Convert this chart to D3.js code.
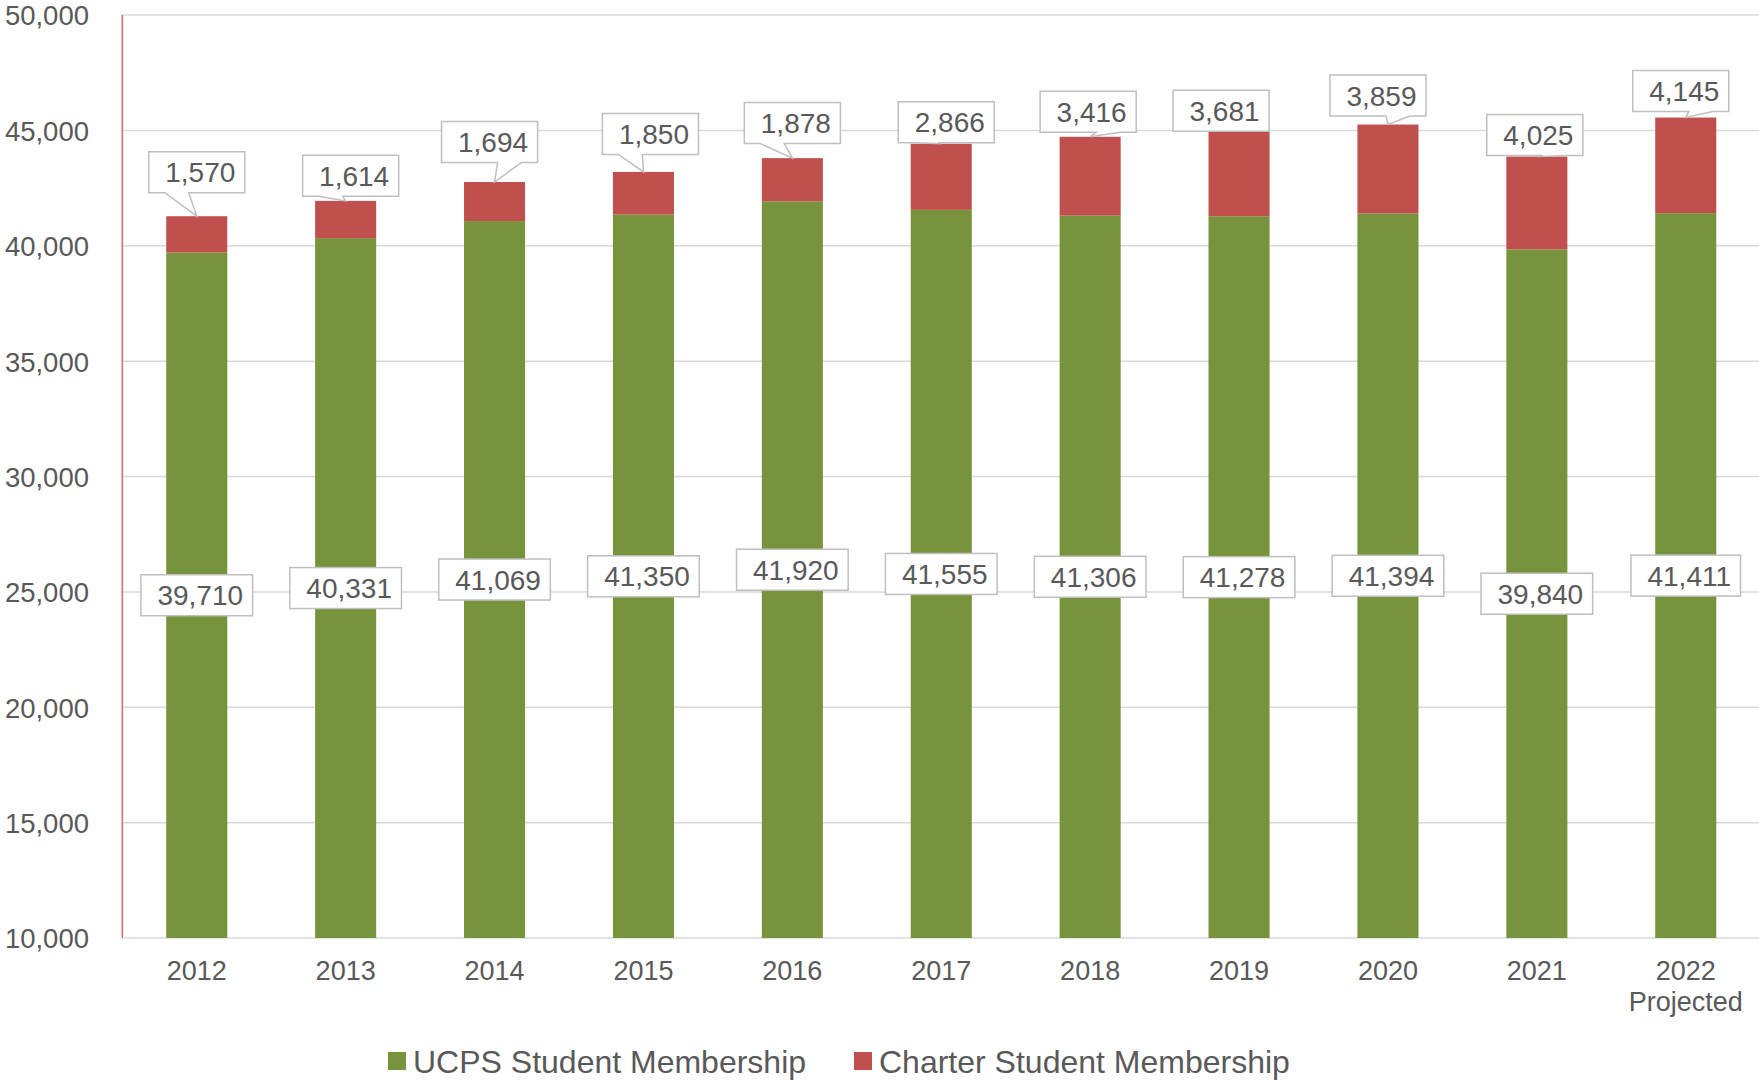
<!DOCTYPE html>
<html>
<head>
<meta charset="utf-8">
<script src="https://cdn.jsdelivr.net/npm/d3@7"></script>
<style>
  body { margin: 0; background: #fff; }
  text { font-family: "Liberation Sans", Arial, sans-serif; fill: #595959; }
</style>
</head>
<body>
<svg id="chart"></svg>
<script>
// data
const years = ['2012', '2013', '2014', '2015', '2016', '2017', '2018', '2019', '2020', '2021', '2022'];
const yearNotes = ['', '', '', '', '', '', '', '', '', '', 'Projected'];
const ucps = [39710, 40331, 41069, 41350, 41920, 41555, 41306, 41278, 41394, 39840, 41411];
const charter = [1570, 1614, 1694, 1850, 1878, 2866, 3416, 3681, 3859, 4025, 4145];
const yTicks = [10000, 15000, 20000, 25000, 30000, 35000, 40000, 45000, 50000];
const seriesNames = ['UCPS Student Membership', 'Charter Student Membership'];

// where each charter callout was dragged to, relative to the bar top (px)
const calloutDx = [0, 5, -5, 7, 0, 5, -2, -18, -10, -2, -5];
const calloutDy = [-44, -25, -40, -38, -35, -21.5, -25, -20.5, -29, -21.5, -26.5];

const width = 1759;
const height = 1080;
const green = '#77933C';
const red = '#C0504D';

const svg = d3.select('#chart')
              .attr('width', width)
              .attr('height', height);

const x = d3.scaleBand()
            .domain(years)
            .range([122.3, 122.3 + 148.9 * years.length])
            .paddingInner(0.59)
            .paddingOuter(0.295);

const y = d3.scaleLinear()
            .domain([10000, 50000])
            .range([938, 15]);

// gridlines
svg.append('g')
   .selectAll('line')
   .data(yTicks)
   .enter()
   .append('line')
   .attr('x1', 122)
   .attr('x2', width)
   .attr('y1', d => y(d))
   .attr('y2', d => y(d))
   .attr('stroke', '#d9d9d9')
   .attr('stroke-width', 1.5);

// y labels
const yAxis = svg.append('g')
                 .attr('transform', 'translate(89,0)')
                 .call(d3.axisLeft(y).tickValues(yTicks).tickSize(0).tickPadding(0).tickFormat(d3.format(',')));
yAxis.select('.domain').remove();
yAxis.selectAll('text')
     .attr('font-size', 27.5)
     .attr('font-family', null)
     .attr('dy', '0.36em');

// left axis line
svg.append('line')
   .attr('x1', 122.3).attr('x2', 122.3)
   .attr('y1', y(50000)).attr('y2', y(10000))
   .attr('stroke', '#e06666')
   .attr('stroke-width', 1.5);

// stacked bars
const rows = years.map((yr, i) => ({ year: yr, ucps: ucps[i], charter: charter[i], i }));

svg.append('g')
   .selectAll('rect')
   .data(rows)
   .enter()
   .append('rect')
   .attr('x', d => x(d.year))
   .attr('width', x.bandwidth())
   .attr('y', d => y(d.ucps))
   .attr('height', d => y(10000) - y(d.ucps))
   .attr('fill', green);

svg.append('g')
   .selectAll('rect')
   .data(rows)
   .enter()
   .append('rect')
   .attr('x', d => x(d.year))
   .attr('width', x.bandwidth())
   .attr('y', d => y(d.ucps + d.charter))
   .attr('height', d => y(d.ucps) - y(d.ucps + d.charter))
   .attr('fill', red);

// x labels
const xLabels = svg.append('g')
                   .selectAll('text')
                   .data(rows)
                   .enter()
                   .append('text')
                   .attr('x', d => x(d.year) + x.bandwidth() / 2)
                   .attr('y', 980)
                   .attr('text-anchor', 'middle')
                   .attr('font-size', 27);
xLabels.append('tspan').text(d => d.year);
xLabels.append('tspan')
       .attr('x', d => x(d.year) + x.bandwidth() / 2)
       .attr('dy', 31)
       .text(d => yearNotes[d.i]);

const fmt = d3.format(',');
const boxH = 41;
const labelFont = 28;

// UCPS labels: plain boxes at the middle of the green segment
const gLabels = svg.append('g')
                   .selectAll('g')
                   .data(rows)
                   .enter()
                   .append('g')
                   .attr('transform', d => `translate(${x(d.year) + x.bandwidth() / 2}, ${(y(10000) + y(d.ucps)) / 2})`);
gLabels.append('rect');
gLabels.append('text')
       .attr('x', 3.5)
       .attr('y', labelFont * 0.36)
       .attr('text-anchor', 'middle')
       .attr('font-size', labelFont)
       .text(d => fmt(d.ucps));
gLabels.each(function () {
  const g = d3.select(this);
  const w = g.select('text').node().getComputedTextLength() + 26;
  g.select('rect')
   .attr('x', -w / 2).attr('y', -boxH / 2)
   .attr('width', w).attr('height', boxH)
   .attr('fill', '#fff')
   .attr('stroke', '#bfbfbf')
   .attr('stroke-width', 1.5);
});

// Charter labels: wedge callouts pointing at the bar top
const cLabels = svg.append('g')
                   .selectAll('g')
                   .data(rows)
                   .enter()
                   .append('g');
cLabels.append('path');
cLabels.append('text')
       .attr('text-anchor', 'middle')
       .attr('font-size', labelFont)
       .text(d => fmt(d.charter));
cLabels.each(function (d) {
  const g = d3.select(this);
  const tipX = x(d.year) + x.bandwidth() / 2;
  const tipY = y(d.ucps + d.charter);
  const cx = tipX + calloutDx[d.i];
  const cy = tipY + calloutDy[d.i];
  const txt = g.select('text').attr('x', cx + 3.5).attr('y', cy + labelFont * 0.36);
  const w = txt.node().getComputedTextLength() + 26;
  const l = cx - w / 2, r = cx + w / 2, t = cy - boxH / 2, b = cy + boxH / 2;
  const path = d3.path();
  path.moveTo(l, t);
  path.lineTo(r, t);
  path.lineTo(r, b);
  if (tipY > b + 0.5) {
    const right = tipX > cx;
    const x1 = l + w * (right ? 7 : 2) / 12;
    const x2 = l + w * (right ? 10 : 5) / 12;
    path.lineTo(x2, b);
    path.lineTo(tipX, tipY);
    path.lineTo(x1, b);
  }
  path.lineTo(l, b);
  path.closePath();
  g.select('path')
   .attr('d', path.toString())
   .attr('fill', '#fff')
   .attr('stroke', '#bfbfbf')
   .attr('stroke-width', 1.5)
   .attr('stroke-linejoin', 'miter');
});

// legend
const legend = svg.append('g')
                  .selectAll('g')
                  .data(seriesNames)
                  .enter()
                  .append('g')
                  .attr('transform', (d, i) => `translate(${i === 0 ? 388 : 854}, 1052)`);
legend.append('rect')
      .attr('width', 18)
      .attr('height', 18)
      .attr('fill', (d, i) => i === 0 ? green : red);
legend.append('text')
      .attr('x', 25)
      .attr('y', 9 + 32 * 0.36)
      .attr('font-size', 32)
      .text(d => d);
</script>
</body>
</html>
